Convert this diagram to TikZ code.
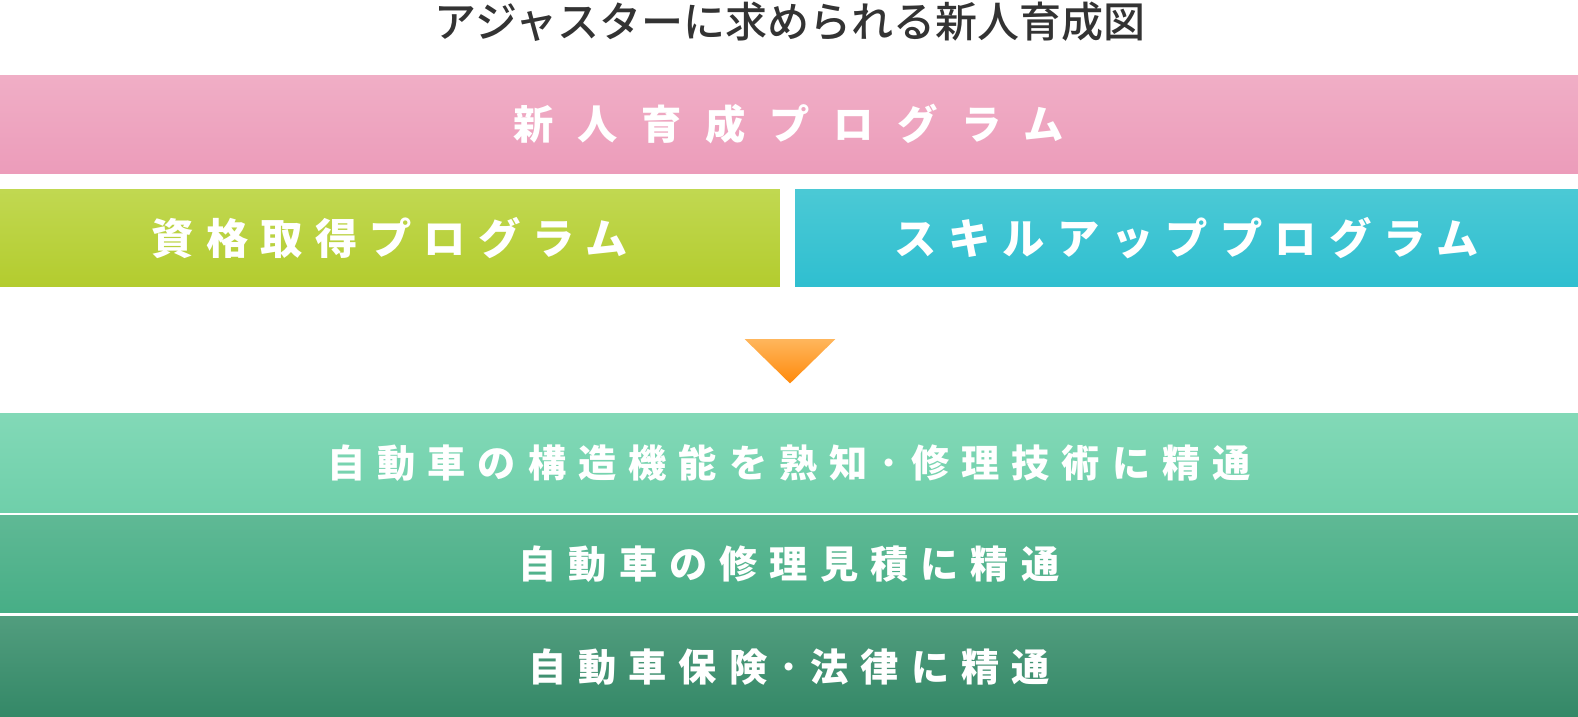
\documentclass[tikz,border=0pt]{standalone}
\usepackage{fontspec}
\usetikzlibrary{fit}
\newfontfamily\jp{Noto Sans CJK JP}
\newfontfamily\jpm{Noto Sans CJK JP Medium}
\definecolor{pinkT}{HTML}{F0AEC6}\definecolor{pinkB}{HTML}{EC9CBA}
\definecolor{limeT}{HTML}{C1D851}\definecolor{limeB}{HTML}{B3CC2E}
\definecolor{blueT}{HTML}{4BC9D5}\definecolor{blueB}{HTML}{2FBFD0}
\definecolor{gaT}{HTML}{82D9B7}\definecolor{gaB}{HTML}{6FCFAA}
\definecolor{gbT}{HTML}{5FB995}\definecolor{gbB}{HTML}{47AE86}
\definecolor{gcT}{HTML}{519D7E}\definecolor{gcB}{HTML}{348867}
\definecolor{orT}{HTML}{FFB65C}\definecolor{orB}{HTML}{FF8A0B}
\definecolor{titlegray}{HTML}{333333}
\tikzset{
  band/.style={inner sep=0pt, outer sep=0pt},
  lbl/.style={inner sep=0pt, outer sep=0pt, text=white},
  pinklbl/.style={lbl,
    font=\jp\bfseries\fontsize{40.3}{48}\selectfont\addfontfeatures{LetterSpace=58.5}},
  proglbl/.style={lbl,
    font=\jp\bfseries\fontsize{42.3}{50}\selectfont\addfontfeatures{LetterSpace=28.6}},
  reslbl/.style={lbl,
    font=\jp\bfseries\fontsize{38.2}{46}\selectfont\addfontfeatures{LetterSpace=31.6}},
}
\begin{document}
\begin{tikzpicture}[x=1.0064pt,y=-1.0064pt]
\useasboundingbox (0,0) rectangle (1568,712.4);
\node[font=\jpm\fontsize{42}{50}\selectfont, text=titlegray, inner sep=0pt] (title) at (785,22) {アジャスターに求められる新人育成図};
\node[band, top color=pinkT, bottom color=pinkB, fit={(0,75)(1568,172)}] (pink) {};
\node[pinklbl] (pinkt) at (pink.center) {新人育成プログラム\hspace{-23.5pt}};
\node[band, top color=limeT, bottom color=limeB, fit={(0,188)(775,285)}] (lime) {};
\node[proglbl] (limet) at (lime.center) {資格取得プログラム\hspace{-12pt}};
\node[band, top color=blueT, bottom color=blueB, fit={(790,188)(1568,285)}] (blue) {};
\node[proglbl] (bluet) at (blue.center) {スキルアッププログラム\hspace{-12pt}};
\shade[top color=orT, bottom color=orB] (740,337) -- (830,337) -- (785,381) -- cycle;
\coordinate (arrowtip) at (785,381);
\node[band, top color=gaT, bottom color=gaB, fit={(0,411)(1568,509)}] (ra) {};
\node[reslbl] (rat) at (ra.center) {自動車の構造機能を熟知･修理技術に精通\hspace{-12pt}};
\node[band, top color=gbT, bottom color=gbB, fit={(0,512)(1568,609)}] (rb) {};
\node[reslbl] (rbt) at (rb.center) {自動車の修理見積に精通\hspace{-12pt}};
\node[band, top color=gcT, bottom color=gcB, fit={(0,613)(1568,712.4)}] (rc) {};
\node[reslbl] (rct) at (rc.center) {自動車保険･法律に精通\hspace{-12pt}};
\end{tikzpicture}
\end{document}
